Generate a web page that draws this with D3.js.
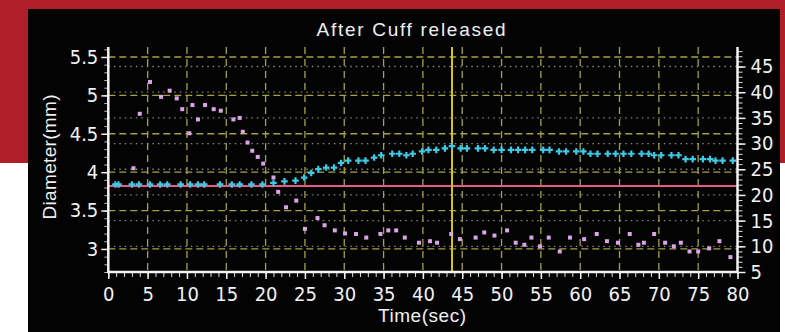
<!DOCTYPE html>
<html>
<head>
<meta charset="utf-8">
<script src="https://cdn.jsdelivr.net/npm/d3@7"></script>
<style>
	body { margin: 0; background: #fff; }
	svg { display: block; }
</style>
</head>
<body>
<div id="chart"></div>
<script>
// diameter / flow chart after cuff release

var width = 785,
	height = 332;

// plot box
var left = 108.3, right = 737.5,
	top_y = 47, bottom_y = 272;

// diameter (mm), left axis, cyan crosses
var diam_time = [0.9, 1.3, 3.0, 3.9, 5.3, 6.6, 7.5, 9.2, 10.4, 11.4, 12.2, 14.2, 15.7, 16.7, 18.2, 19.6,
	21.0, 22.4, 23.8, 24.9, 25.8, 26.7, 27.7, 28.7, 29.6,
	30.5, 31.8, 32.7, 33.8, 34.7, 36.1, 37.0, 37.9, 38.7, 39.9,
	40.7, 41.7, 42.8, 43.7, 44.8, 45.6, 47.0, 47.9, 49.0, 50.0,
	51.2, 52.1, 53.0, 53.9, 55.3, 56.1, 57.3, 58.2, 59.5,
	60.4, 61.3, 62.2, 63.5, 64.5, 65.5, 66.5, 67.8, 68.7,
	69.4, 70.3, 71.6, 72.5, 73.4, 74.3, 75.6, 76.5, 77.2, 78.1, 79.4];
var diam_value = [3.84, 3.84, 3.84, 3.84, 3.84, 3.84, 3.84, 3.84, 3.84, 3.84, 3.84, 3.84, 3.84, 3.84, 3.84, 3.84,
	3.86, 3.88, 3.89, 3.93, 3.99, 4.04, 4.06, 4.06, 4.12,
	4.15, 4.15, 4.15, 4.19, 4.22, 4.24, 4.24, 4.22, 4.24, 4.27,
	4.29, 4.29, 4.31, 4.34, 4.31, 4.31, 4.31, 4.31, 4.29, 4.29,
	4.29, 4.29, 4.29, 4.29, 4.29, 4.29, 4.27, 4.27, 4.27,
	4.27, 4.24, 4.24, 4.24, 4.24, 4.24, 4.24, 4.24, 4.24,
	4.22, 4.22, 4.22, 4.22, 4.17, 4.17, 4.17, 4.17, 4.15, 4.15, 4.15];

// second series on the right axis, pink squares
var flow_time = [3.2, 4.0, 5.3, 6.7, 7.8, 8.7, 9.4, 10.3, 10.7, 11.4, 12.3, 13.4, 14.3, 15.9, 16.7, 17.1,
	17.7, 18.3, 19.0, 19.7, 21.0, 21.6, 22.6, 23.9, 25.0, 26.6, 27.5, 28.8, 30.1, 31.5, 32.8, 34.6,
	35.6, 36.6, 37.7, 39.5, 40.9, 41.8, 43.6, 44.7, 46.7, 47.8, 49.1, 50.7, 51.8, 52.9, 53.8, 54.9,
	56.0, 57.4, 58.7, 60.5, 62.1, 63.4, 64.8, 66.3, 67.4, 68.1, 69.4, 70.8, 71.9, 72.8, 73.9, 75.0,
	76.4, 77.7, 79.1];
var flow_value = [25.2, 35.8, 42.0, 39.1, 40.3, 38.8, 36.7, 32.0, 37.5, 34.7, 37.5, 36.7, 36.4, 34.7, 35.0, 32.3,
	30.2, 28.6, 27.4, 26.1, 23.4, 20.6, 17.6, 18.9, 13.4, 15.5, 14.1, 13.1, 12.5, 12.4, 11.7, 12.4,
	13.1, 13.1, 11.7, 10.7, 11.0, 10.7, 12.4, 11.4, 11.7, 12.7, 12.1, 13.1, 10.7, 10.3, 11.7, 10.0,
	11.7, 9.0, 11.7, 11.4, 12.4, 11.0, 10.7, 12.4, 10.3, 10.7, 12.4, 10.7, 10.0, 10.7, 9.0, 9.0,
	9.6, 11.0, 7.9];

var baseline_diam = 3.82;
var release_time = 43.7;

var x_ticks = d3.range(0, 81, 5),
	left_ticks = [3, 3.5, 4, 4.5, 5, 5.5],
	right_ticks = d3.range(5, 46, 5);

var title = "After Cuff released",
	x_title = "Time(sec)",
	y_title = "Diameter(mm)";

var x = d3.scaleLinear().domain([0, 80]).range([left, right]);
var y_left = d3.scaleLinear().domain([2.7, 5.63]).range([bottom_y, top_y]);
var y_right = d3.scaleLinear().domain([5, 48.8]).range([bottom_y, top_y]);

var svg = d3.select("#chart")
	.append("svg")
	.attr("width", width)
	.attr("height", height);

// page background: red band on top, white below, black panel
svg.append("rect").attr("width", width).attr("height", 163).attr("fill", "#b01e27");
svg.append("rect").attr("x", 28).attr("y", 9).attr("width", 752).attr("height", 323).attr("fill", "#030303");

// horizontal grid, dashed on left ticks, dotted on right ticks
svg.append("g")
	.selectAll("line")
	.data(right_ticks)
	.enter().append("line")
	.attr("x1", left).attr("x2", right)
	.attr("y1", function(d) { return y_right(d); })
	.attr("y2", function(d) { return y_right(d); })
	.attr("stroke", "#85857a")
	.attr("stroke-width", 1.3)
	.attr("stroke-dasharray", "1.5,4");

svg.append("g")
	.selectAll("line")
	.data(left_ticks)
	.enter().append("line")
	.attr("x1", left).attr("x2", right)
	.attr("y1", function(d) { return y_left(d); })
	.attr("y2", function(d) { return y_left(d); })
	.attr("stroke", "#a3a346")
	.attr("stroke-width", 1.3)
	.attr("stroke-dasharray", "7,4");

// vertical grid
svg.append("g")
	.selectAll("line")
	.data(x_ticks.slice(1, -1))
	.enter().append("line")
	.attr("x1", function(d) { return x(d); })
	.attr("x2", function(d) { return x(d); })
	.attr("y1", top_y).attr("y2", bottom_y)
	.attr("stroke", "#a3a346")
	.attr("stroke-width", 1.3)
	.attr("stroke-dasharray", "7,5");

// baseline diameter line
svg.append("line")
	.attr("x1", left).attr("x2", right)
	.attr("y1", y_left(baseline_diam)).attr("y2", y_left(baseline_diam))
	.attr("stroke", "#e85a8c")
	.attr("stroke-width", 2);

// cuff release marker
svg.append("line")
	.attr("x1", x(release_time)).attr("x2", x(release_time))
	.attr("y1", top_y).attr("y2", bottom_y)
	.attr("stroke", "#d6c800")
	.attr("stroke-width", 2);

// pink squares
svg.append("g")
	.selectAll("rect")
	.data(d3.zip(flow_time, flow_value))
	.enter().append("rect")
	.attr("x", function(d) { return x(d[0]) - 2; })
	.attr("y", function(d) { return y_right(d[1]) - 2; })
	.attr("width", 4)
	.attr("height", 4)
	.attr("fill", "#dba4e6");

// cyan crosses
var cross = d3.symbol().type(d3.symbolCross).size(24);
svg.append("g")
	.selectAll("path")
	.data(d3.zip(diam_time, diam_value))
	.enter().append("path")
	.attr("d", cross)
	.attr("transform", function(d) {
		return "translate(" + [x(d[0]), y_left(d[1])] + ")";
	})
	.attr("fill", "#3ccbe6");

// axes
var font = "'Liberation Sans Narrow', 'DejaVu Sans Condensed', sans-serif";

function style_axis(g, size) {
	g.select(".domain").remove();
	g.selectAll("line").attr("stroke", "#f0f0f0").attr("stroke-width", 1.5);
	g.selectAll("text")
		.attr("fill", "#f2f2f2")
		.style("font-family", font)
		.style("font-size", size + "px");
}

// minor ticks first
svg.append("g")
	.attr("transform", "translate(" + left + ",0)")
	.call(d3.axisLeft(y_left).tickValues(d3.range(27, 57).map(function(d) { return d / 10; })).tickSize(4).tickFormat(""))
	.call(style_axis, 18)
	.selectAll("line").attr("stroke", "#bbbbbb").attr("stroke-width", 1);

svg.append("g")
	.attr("transform", "translate(" + right + ",0)")
	.call(d3.axisRight(y_right).tickValues(d3.range(5, 49)).tickSize(5).tickFormat(""))
	.call(style_axis, 18)
	.selectAll("line").attr("stroke", "#dddddd").attr("stroke-width", 1);

svg.append("g")
	.attr("transform", "translate(0," + bottom_y + ")")
	.call(d3.axisBottom(x).tickValues(d3.range(0, 81)).tickSize(5).tickFormat(""))
	.call(style_axis, 18)
	.selectAll("line").attr("stroke", "#dddddd").attr("stroke-width", 1);

svg.append("g")
	.attr("transform", "translate(" + left + ",0)")
	.call(d3.axisLeft(y_left).tickValues(left_ticks).tickSize(7).tickPadding(3).tickFormat(d3.format("")))
	.call(style_axis, 20);

svg.append("g")
	.attr("transform", "translate(" + right + ",0)")
	.call(d3.axisRight(y_right).tickValues(right_ticks).tickSize(8).tickPadding(5))
	.call(style_axis, 20);

svg.append("g")
	.attr("transform", "translate(0," + bottom_y + ")")
	.call(d3.axisBottom(x).tickValues(x_ticks).tickSize(7).tickPadding(8))
	.call(style_axis, 20);

// axis lines
svg.append("path")
	.attr("d", "M" + left + "," + top_y + "V" + bottom_y + "H" + right + "V" + top_y)
	.attr("fill", "none")
	.attr("stroke", "#f4f4f4")
	.attr("stroke-width", 2.5);

// titles
svg.append("text")
	.attr("x", 411).attr("y", 36)
	.attr("text-anchor", "middle")
	.attr("textLength", 189)
	.attr("fill", "#f0f0f0")
	.style("font-family", "'Liberation Sans', sans-serif")
	.style("font-size", "19px")
	.text(title);

svg.append("text")
	.attr("x", 422).attr("y", 322)
	.attr("text-anchor", "middle")
	.attr("textLength", 88)
	.attr("fill", "#f0f0f0")
	.style("font-family", "'Liberation Sans', sans-serif")
	.style("font-size", "19px")
	.text(x_title);

svg.append("text")
	.attr("transform", "translate(56,157) rotate(-90)")
	.attr("text-anchor", "middle")
	.attr("textLength", 125)
	.attr("fill", "#f0f0f0")
	.style("font-family", "'Liberation Sans', sans-serif")
	.style("font-size", "19px")
	.text(y_title);
</script>
</body>
</html>
